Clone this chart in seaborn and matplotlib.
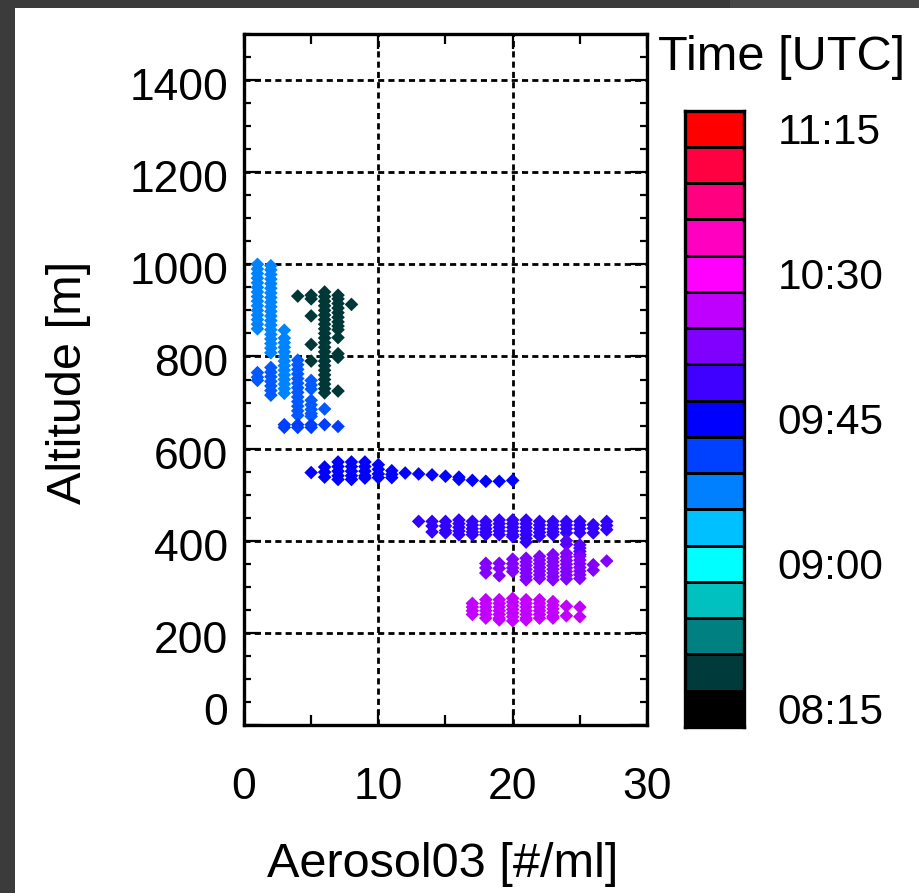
import matplotlib
matplotlib.use("Agg")
import matplotlib.pyplot as plt
import matplotlib.transforms as mtransforms
from matplotlib.colors import ListedColormap, LinearSegmentedColormap
from matplotlib.patches import Rectangle
from matplotlib.ticker import MultipleLocator
import numpy as np
import pandas as pd
import seaborn as sns

# Colour table for flight time, 08:15 (bottom cell) to 11:15 (top cell)
time_colors = ["#000000", "#003a3a", "#008080", "#00c0c0", "#00ffff", "#00c0ff",
               "#0080ff", "#0040ff", "#0000ff", "#4000ff", "#8000ff", "#c000ff",
               "#ff00ff", "#ff00c0", "#ff0080", "#ff0040", "#ff0000"]
time_labels = ["08:15", "09:00", "09:45", "10:30", "11:15"]
time_start, time_end = "08:15", "11:15"

# Profile segments: aerosol bin [#/ml] -> altitudes [m] sampled in that bin
seg1_time = "08:26"
seg1_aero = [4, 5, 6, 7, 8]
seg1_alt = [[931],
            [933, 925, 888, 826, 790],
            [940, 930, 920, 910, 900, 890, 880, 870, 860, 850, 840, 830, 820,
             810, 800, 790, 780, 770, 760, 750, 740, 730, 721],
            [933, 925, 915, 905, 895, 885, 875, 866, 858, 841, 806, 798, 725],
            [913]]

seg2_time = "09:22"
seg2_aero = [1, 2, 3]
seg2_alt = [[1000, 990, 980, 970, 960, 950, 940, 930, 920, 910, 900, 890, 880,
             870, 860],
            [997, 988, 978, 968, 958, 948, 938, 928, 918, 908, 898, 888, 878,
             868, 858, 848, 838, 828, 818, 808],
            [857, 840, 830, 820, 810, 800, 790, 780, 770, 760, 750, 740, 730, 720]]

seg3_time = "09:29"
seg3_aero = [1, 2, 4, 5, 6]
seg3_alt = [[765, 755, 748],
            [776, 766, 756, 746, 736, 726, 716],
            [792, 782, 772, 762, 752, 742, 732, 722, 712, 702, 692, 682, 672],
            [748, 738, 729, 705, 695, 685, 676, 670],
            [686]]

seg4_time = "09:34"
seg4_aero = [3, 4, 5, 6, 7]
seg4_alt = [[652, 646], [652, 646], [652, 646], [652], [648]]

seg5_time = "09:45"
seg5_aero = [5, 6, 7, 8, 9, 10, 11, 12, 13, 14, 15, 16, 17, 18, 19, 20]
seg5_alt = [[548], [560, 549, 538], [571, 561, 551, 541, 533],
            [571, 561, 551, 541, 533], [571, 561, 551, 541, 536],
            [565, 555, 545, 537], [552, 544, 537], [547], [545], [543], [540],
            [538, 533], [531], [529], [529], [531]]

seg6_time = "09:54"
seg6_aero = [13, 14, 15, 16, 17, 18, 19, 20, 21, 22, 23, 24, 25, 26, 27]
seg6_alt = [[442], [442, 432, 419], [442, 432, 422, 417],
            [445, 437, 429, 421, 413], [442, 434, 426, 419, 413],
            [442, 434, 426, 419, 413], [445, 437, 429, 421, 413],
            [445, 437, 429, 421, 413, 409], [445, 437, 429, 421, 413, 405, 397],
            [442, 434, 426, 418, 410], [442, 434, 426, 419, 413],
            [442, 434, 426, 417], [442, 434, 426, 417], [435, 427, 417],
            [442, 433, 424]]

seg7_time = "10:00"
seg7_aero = [24, 25]
seg7_alt = [[400, 392], [391, 384, 377, 370]]

seg8_time = "10:08"
seg8_aero = [18, 19, 20, 21, 22, 23, 24, 25, 26, 27]
seg8_alt = [[351, 341, 330], [351, 340, 324], [360, 350, 341, 333],
            [362, 354, 346, 338, 330, 322, 315],
            [366, 358, 350, 342, 334, 326, 318],
            [370, 362, 354, 346, 338, 330, 322, 315],
            [373, 365, 357, 349, 341, 333, 325, 317],
            [366, 358, 350, 342, 334, 326, 318], [348, 336], [356]]

seg9_time = "10:19"
seg9_aero = [17, 18, 19, 20, 21, 22, 23, 24, 25]
seg9_alt = [[264, 256, 248, 240], [272, 264, 256, 248, 240, 232],
            [272, 264, 256, 248, 240, 232, 228],
            [275, 267, 259, 251, 243, 235, 226],
            [272, 264, 256, 248, 240, 232, 228],
            [272, 264, 256, 248, 240, 232], [268, 260, 252, 244, 236, 232],
            [258, 237], [256, 235]]


def to_minutes(hhmm):
    h, m = hhmm.split(":")
    return int(h) * 60 + int(m)


segments = [(seg1_time, seg1_aero, seg1_alt), (seg2_time, seg2_aero, seg2_alt),
            (seg3_time, seg3_aero, seg3_alt), (seg4_time, seg4_aero, seg4_alt),
            (seg5_time, seg5_aero, seg5_alt), (seg6_time, seg6_aero, seg6_alt),
            (seg7_time, seg7_aero, seg7_alt), (seg8_time, seg8_aero, seg8_alt),
            (seg9_time, seg9_aero, seg9_alt)]
rows = []
for t, bins, alts in segments:
    for x, column in zip(bins, alts):
        for a in column:
            rows.append((x, a, to_minutes(t)))
df = pd.DataFrame(rows, columns=["aerosol", "altitude", "time"])

t0, t1 = to_minutes(time_start), to_minutes(time_end)
point_cmap = LinearSegmentedColormap.from_list("flight_time", time_colors)

sns.set_style("white")
plt.rcParams["font.family"] = ["Liberation Sans", "DejaVu Sans"]
plt.rcParams["text.color"] = "black"
plt.rcParams["axes.labelcolor"] = "black"
plt.rcParams["xtick.color"] = "black"
plt.rcParams["ytick.color"] = "black"
FS_TICK = 32
FS_LABEL = 35
FS_CBAR = 30.5

W, H = 920, 893
fig = plt.figure(figsize=(W / 100, H / 100), dpi=100)


def px_axes(x0, y0, x1, y1):
    return fig.add_axes([x0 / W, 1 - y1 / H, (x1 - x0) / W, (y1 - y0) / H])


# dark window border
fig.patches.append(Rectangle((0, 0), 15 / W, 1, transform=fig.transFigure,
                             facecolor="#3b3b3b", edgecolor="none", zorder=-5))
fig.patches.append(Rectangle((0, 1 - 8 / H), 1, 8 / H, transform=fig.transFigure,
                             facecolor="#3b3b3b", edgecolor="none", zorder=-5))
fig.patches.append(Rectangle((730 / W, 1 - 8 / H), 190 / W, 8 / H,
                             transform=fig.transFigure, facecolor="#474747",
                             edgecolor="none", zorder=-4))

ax = px_axes(244, 34, 647, 725)
sns.scatterplot(data=df, x="aerosol", y="altitude", hue="time", palette=point_cmap,
                hue_norm=(t0, t1), marker="D", s=48, linewidth=0, legend=False,
                ax=ax, zorder=3)
ax.set_xlim(0, 30)
ax.set_ylim(0, 1500)
ax.set_xticks([0, 10, 20, 30])
y_ticks = list(range(0, 1401, 200))
ax.set_yticks(y_ticks)
ax.xaxis.set_minor_locator(MultipleLocator(5))
ax.yaxis.set_minor_locator(MultipleLocator(50))
ax.set_axisbelow(True)
ax.grid(True, which="major", color="black", linestyle=(0, (2.2, 1.5)),
        linewidth=2.0)
for s in ax.spines.values():
    s.set_visible(True)
    s.set_linewidth(2.4)
    s.set_color("black")
ax.tick_params(axis="both", which="both", direction="in", top=True, right=True,
               bottom=True, left=True, colors="black", labelsize=FS_TICK, width=1.6)
ax.tick_params(axis="x", which="major", length=11, pad=30)
ax.tick_params(axis="x", which="minor", length=7.5)
ax.tick_params(axis="y", which="major", length=12, pad=11.5)
ax.tick_params(axis="y", which="minor", length=5)

ax.set_xlabel("Aerosol03 [#/ml]", fontsize=FS_LABEL)
ax.set_ylabel("Altitude [m]", fontsize=FS_LABEL)
ax.xaxis.set_label_coords((443 - 244) / 403, (725 - 877) / 691)
ax.xaxis.label.set_va("baseline")
ax.yaxis.set_label_coords((81 - 244) / 403, (725 - 382) / 691)
ax.yaxis.label.set_va("baseline")

# y tick labels sit slightly below their ticks, the lowest one lifted clear of the x axis
for value, tick in zip(y_ticks, ax.yaxis.get_major_ticks()):
    dy = 16 if value == 0 else -4
    off = mtransforms.ScaledTranslation(0, dy / 100, fig.dpi_scale_trans)
    tick.label1.set_transform(tick.label1.get_transform() + off)

# colour bar of flight time
cax = px_axes(685, 110.7, 744, 727)
n = len(time_colors)
cells = np.arange(n)[::-1].reshape(-1, 1)
sns.heatmap(cells, ax=cax, cmap=ListedColormap(time_colors), vmin=-0.5,
            vmax=n - 0.5, cbar=False, linewidths=2.0, linecolor="black",
            xticklabels=False, yticklabels=False)
cax.set_yticks([0.5, 4.5, 8.5, 12.5, 16.5])
cax.set_yticklabels(time_labels[::-1], rotation=0)
cax.yaxis.tick_right()
cax.tick_params(axis="y", length=0, pad=24, labelsize=FS_CBAR, colors="black")
for s in cax.spines.values():
    s.set_visible(True)
    s.set_linewidth(2.4)
    s.set_color("black")

fig.text(658 / W, 1 - 70 / H, "Time [UTC]", fontsize=FS_LABEL, ha="left",
         va="baseline", color="black")

fig.savefig("out.png", dpi=100, facecolor="white")
